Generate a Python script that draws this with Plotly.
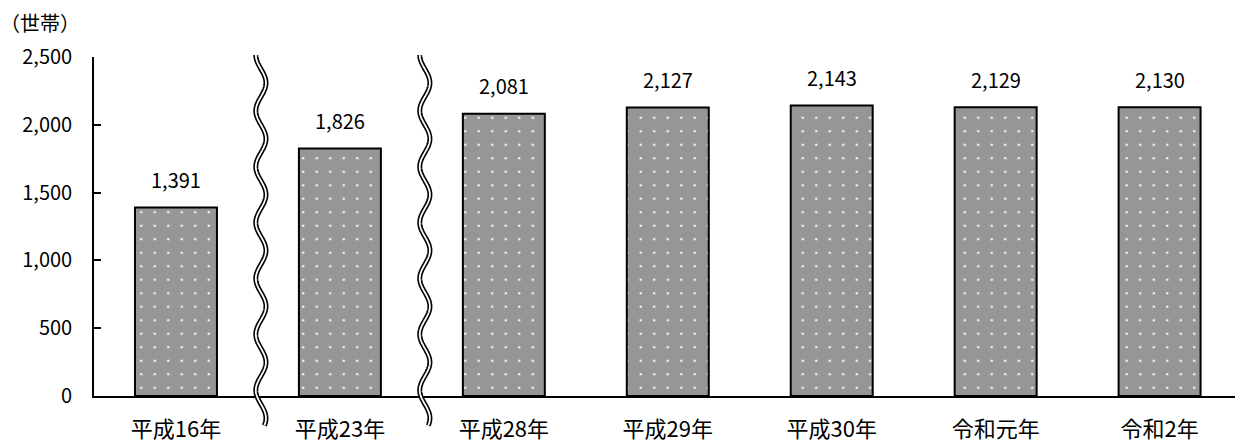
import numpy as np
import plotly.graph_objects as go

categories = ["平成16年", "平成23年", "平成28年", "平成29年", "平成30年", "令和元年", "令和2年"]
households = [1391, 1826, 2081, 2127, 2143, 2129, 2130]
y_tick_values = [0, 500, 1000, 1500, 2000, 2500]
y_tick_labels = ["0", "500", "1,000", "1,500", "2,000", "2,500"]
break_positions = [0.5, 1.5]  # axis breaks between categories
unit_label = "（世帯）"

FONT = "Noto Sans CJK JP"
BAR_GRAY = "#969696"

x_pos = list(range(len(categories)))

fig = go.Figure()
fig.add_trace(go.Bar(
    x=x_pos, y=households, width=0.5,
    marker=dict(
        color=BAR_GRAY,
        line=dict(color="black", width=2),
        pattern=dict(shape=".", fgcolor="#f4f4f4", bgcolor=BAR_GRAY,
                     size=13.5, solidity=0.03, fillmode="replace"),
    ),
    showlegend=False, hoverinfo="skip",
))

annotations = []
for xi, v in zip(x_pos, households):
    annotations.append(dict(
        x=xi, y=v, xref="x", yref="y", text=f"{v:,}", showarrow=False,
        yanchor="middle", yshift=28, font=dict(family=FONT, size=20, color="black"),
    ))
annotations.append(dict(
    x=0, y=1, xref="paper", yref="paper", text=unit_label, showarrow=False,
    xanchor="left", yanchor="middle", xshift=-96, yshift=35,
    font=dict(family=FONT, size=20, color="black"),
))

# wavy double break lines
shapes = []
top, bottom = 1.006, -0.087
half_period = 0.0824
amp = 0.031
for bp in break_positions:
    yy = np.linspace(top, bottom, 400)
    xc = bp + 0.018
    xx = xc - amp * np.cos(np.pi * (top - yy) / half_period)
    path = "M " + " L ".join(f"{a:.5f},{b:.5f}" for a, b in zip(xx, yy))
    shapes.append(dict(type="path", path=path, xref="x", yref="paper",
                       line=dict(color="black", width=5), layer="above"))
    shapes.append(dict(type="path", path=path, xref="x", yref="paper",
                       line=dict(color="white", width=1.8), layer="above"))

fig.update_layout(
    width=1235, height=443,
    margin=dict(l=94, r=0, t=57, b=40),
    paper_bgcolor="white", plot_bgcolor="white",
    font=dict(family=FONT, color="black"),
    bargap=0.5,
    annotations=annotations,
    shapes=shapes,
    xaxis=dict(
        range=[-0.5, 6.46], tickvals=x_pos, ticktext=categories,
        showline=True, linecolor="black", linewidth=1.6, ticks="",
        showgrid=False, zeroline=False, tickfont=dict(family=FONT, size=22),
        ticklabelstandoff=13,
    ),
    yaxis=dict(
        range=[0, 2500], tickvals=y_tick_values, ticktext=y_tick_labels,
        showline=True, linecolor="black", linewidth=1.6,
        ticks="inside", ticklen=7, tickwidth=1.6, tickcolor="black",
        showgrid=False, zeroline=False, tickfont=dict(family=FONT, size=20),
        ticklabelstandoff=16,
    ),
)

fig.write_html("out.html")
